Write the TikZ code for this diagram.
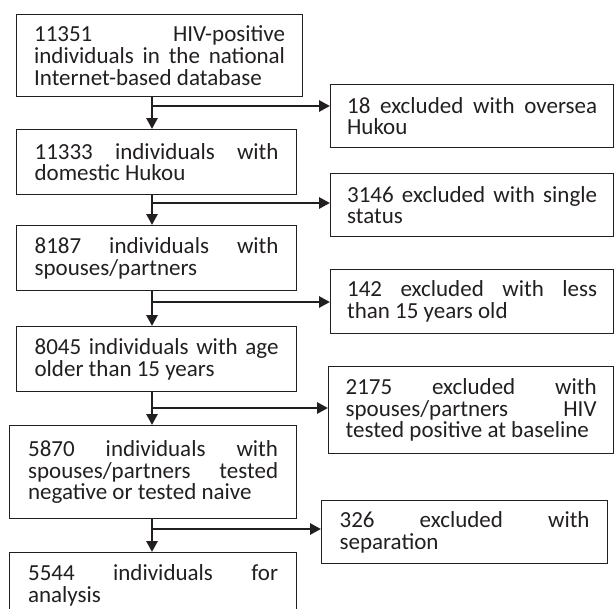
\documentclass[tikz,border=0pt]{standalone}
\usepackage{fontspec}
\setmainfont{Carlito}
\usepackage{tikz}
\usetikzlibrary{arrows.meta}
\definecolor{ink}{HTML}{231F20}
\lineskiplimit=-50pt
\hyphenpenalty=10000
\exhyphenpenalty=10000

\begin{document}
\begin{tikzpicture}[
  x=1pt, y=-1pt,
  stage/.style={
    draw=ink, text=ink, line width=1.2pt, anchor=north west, align=justify,
    inner xsep=0pt, inner ysep=0pt, font=\fontsize{23}{21.7}\selectfont
  },
  arrow/.style={-{Triangle[length=11pt, width=11pt]}, ink, line width=2.8pt}
]
  \useasboundingbox (0,0) rectangle (615,608);
  \clip (0,0) rectangle (615,608);

  % main column
  \node[stage, text width=251pt, minimum width=286pt, minimum height=82pt] (b1) at (16,14)
    {11351 HIV-positive\linebreak individuals in the national\linebreak Internet-based database};
  \node[stage, text width=244pt, minimum width=280pt, minimum height=65pt] (b2) at (16,129)
    {11333 individuals with\linebreak domestic Hukou};
  \node[stage, text width=244pt, minimum width=280pt, minimum height=65pt] (b3) at (16,225)
    {8187 individuals with\linebreak spouses/partners};
  \node[stage, text width=244pt, minimum width=280pt, minimum height=65pt] (b4) at (16,326)
    {8045 individuals with age\linebreak older than 15 years};
  \node[stage, text width=250pt, minimum width=287pt, minimum height=93pt] (b5) at (9,425)
    {5870 individuals with\linebreak spouses/partners tested\linebreak negative or tested naive};
  \node[stage, text width=250pt, minimum width=287pt, minimum height=65pt] (b6) at (9,552)
    {5544 individuals for\linebreak analysis};

  % exclusions
  \node[stage, text width=250pt, minimum width=283pt, minimum height=63pt] (r1) at (330,84)
    {18 excluded with oversea\linebreak Hukou};
  \node[stage, text width=250pt, minimum width=283pt, minimum height=63pt] (r2) at (330,173)
    {3146 excluded with single\linebreak status};
  \node[stage, text width=250pt, minimum width=283pt, minimum height=64pt] (r3) at (330,269)
    {142 excluded with less\linebreak than 15 years old};
  \node[stage, text width=251pt, minimum width=285pt, minimum height=87pt] (r4) at (328,366)
    {2175 excluded with\linebreak spouses/partners HIV\linebreak tested positive at baseline};
  \node[stage, text width=250pt, minimum width=286pt, minimum height=63pt] (r5) at (321,500)
    {326 excluded with\linebreak separation};

  \coordinate (j1) at (152,106);
  \coordinate (j2) at (152,203);
  \coordinate (j3) at (152,302);
  \coordinate (j4) at (152,408);
  \coordinate (j5) at (152,529);

  \draw[arrow] (b1.south -| j1) -- (b2.north -| j1);
  \draw[arrow] (b2.south -| j2) -- (b3.north -| j2);
  \draw[arrow] (b3.south -| j3) -- (b4.north -| j3);
  \draw[arrow] (b4.south -| j4) -- (b5.north -| j4);
  \draw[arrow] (b5.south -| j5) -- (b6.north -| j5);

  \draw[arrow] (j1) -- (j1 -| r1.west);
  \draw[arrow] (j2) -- (j2 -| r2.west);
  \draw[arrow] (j3) -- (j3 -| r3.west);
  \draw[arrow] (j4) -- (j4 -| r4.west);
  \draw[arrow] (j5) -- (j5 -| r5.west);
\end{tikzpicture}
\end{document}
